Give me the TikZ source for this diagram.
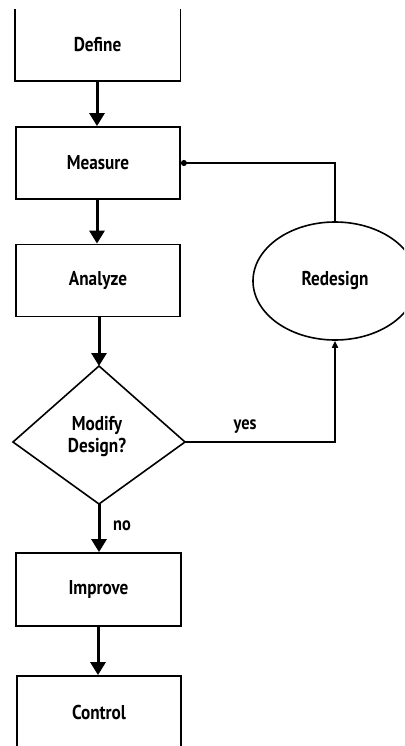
\documentclass[tikz,border=0pt]{standalone}
\usepackage{fontspec}
\setmainfont{PT Sans}[FakeStretch=0.86]
\usetikzlibrary{arrows.meta,shapes.geometric}
\begin{document}
\begin{tikzpicture}[x=1pt,y=-1pt,
  every node/.style={font=\fontsize{20}{23}\selectfont\bfseries},
  stepbox/.style={draw, line width=1.8pt, rectangle, inner sep=0pt,
    minimum width=164pt, minimum height=72pt},
  flow/.style={line width=3pt, -{Triangle[width=15pt,length=13pt]}},
  thin/.style={line width=1.6pt}]
\useasboundingbox (0,0) rectangle (404,746);
\clip (0,0) rectangle (404,746);

% process boxes
\node[stepbox, draw=none, minimum height=70pt] (define) at (97.5,45) {Define};
\draw[line width=1.8pt] (define.north west) -- (define.south west)
  -- (define.south east) -- (define.north east);
\node[stepbox] (measure) at (98,163) {Measure};
\node[stepbox] (analyze) at (98,280.5) {Analyze};
\node[stepbox, minimum width=165pt, minimum height=73pt] (improve) at (98.5,589.5) {Improve};
\node[stepbox] (control) at (99,712) {Control};

% decision
\coordinate (dtop) at (99,366);
\coordinate (dleft) at (13,442);
\coordinate (dright) at (185,442);
\coordinate (dbot) at (99,504);
\draw[thin, line join=miter] (dtop) -- (dright) -- (dbot) -- (dleft) -- cycle;
\node[align=center, inner sep=0pt] (modify) at (97,437) {Modify\\[-1pt]Design?};

% redesign loop
\node[draw, ellipse, thin, minimum width=164pt, minimum height=118pt, inner sep=0pt]
  (redesign) at (335,281) {Redesign};

% main flow
\draw[flow] (define.south -| 97,0) -- (measure.north -| 97,0);
\draw[flow] (measure.south -| 97,0) -- (analyze.north -| 97,0);
\draw[flow] (analyze.south -| dtop) -- (dtop);
\draw[flow] (dbot) -- (improve.north -| dbot);
\draw[flow] (improve.south -| 98,0) -- (control.north -| 98,0);
\node[font=\fontsize{19}{21}\selectfont\bfseries] (no) at (122,526) {no};

% yes branch back to measure
\draw[thin, -{Triangle[width=6pt,length=7pt]}] (dright) -- (redesign.south |- dright)
  -- (redesign.south);
\node[font=\fontsize{19}{21}\selectfont\bfseries] (yes) at (245,427) {yes};
\draw[thin, -{Circle[length=6pt]}] (redesign.north) -- (redesign.north |- measure.east)
  -- (measure.east);
\end{tikzpicture}
\end{document}
